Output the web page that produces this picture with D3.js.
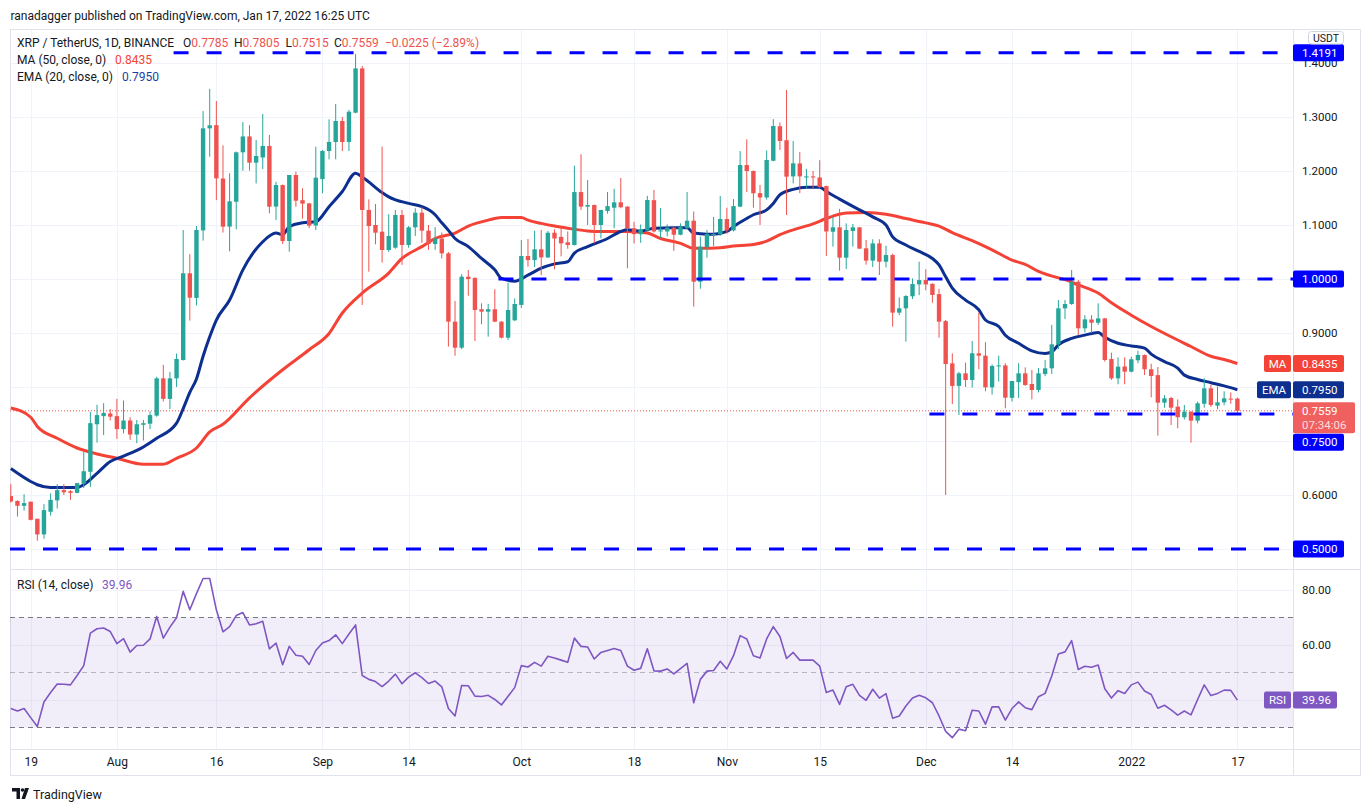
<!DOCTYPE html>
<html><head><meta charset="utf-8">
<script src="https://cdn.jsdelivr.net/npm/d3@7"></script>
<style>
body{margin:0;background:#fff;}
svg{display:block;font-family:Roboto,"Noto Sans",sans-serif;}
</style>
</head><body>
<svg id="chart" width="1370" height="812"></svg>
<script>
// ---------------- DATA ----------------
const baseDate = "2021-07-19";          // day 0
const firstCandleDay = -3;              // first candle = 2021-07-16
// [open, high, low, close] daily XRP/USDT
const candles = [
[0.598,0.620,0.586,0.588],[0.589,0.590,0.560,0.580],[0.580,0.6015,0.571,0.585],
[0.5876,0.5876,0.553,0.554],[0.556,0.556,0.5154,0.527],[0.527,0.583,0.519,0.572],[0.569,0.603,0.562,0.591],
[0.590,0.620,0.575,0.609],[0.609,0.620,0.600,0.605],[0.607,0.609,0.591,0.604],[0.604,0.622,0.603,0.622],
[0.621,0.680,0.613,0.644],[0.643,0.754,0.615,0.733],[0.731,0.767,0.697,0.748],[0.746,0.770,0.711,0.752],
[0.751,0.759,0.738,0.745],[0.746,0.778,0.704,0.722],[0.722,0.775,0.714,0.738],[0.738,0.744,0.702,0.712],
[0.712,0.739,0.696,0.731],[0.730,0.739,0.701,0.733],[0.732,0.755,0.722,0.748],[0.747,0.819,0.745,0.816],
[0.816,0.841,0.773,0.778],[0.778,0.828,0.759,0.816],[0.816,0.862,0.800,0.852],[0.850,1.0907,0.849,1.0106],
[1.0106,1.046,0.923,0.9654],[0.965,1.098,0.951,1.0907],[1.09,1.311,1.071,1.279],[1.279,1.352,1.2265,1.2846],
[1.285,1.3296,1.146,1.1864],[1.186,1.2475,1.086,1.0969],[1.097,1.1957,1.0512,1.1438],[1.143,1.236,1.092,1.2346],
[1.2346,1.2907,1.2006,1.264],[1.264,1.285,1.2006,1.2154],[1.2154,1.2574,1.177,1.2278],[1.225,1.3056,1.2037,1.2463],
[1.2463,1.2667,1.1216,1.1339],[1.134,1.180,1.109,1.174],[1.174,1.175,1.065,1.0704],[1.0704,1.1926,1.0506,1.1926],
[1.1926,1.1987,1.134,1.145],[1.146,1.168,1.1117,1.1395],[1.14,1.141,1.094,1.0988],[1.099,1.245,1.0907,1.1876],
[1.185,1.239,1.1587,1.237],[1.237,1.2957,1.2216,1.2537],[1.2537,1.324,1.2216,1.2926],[1.2926,1.30,1.237,1.2537],
[1.2537,1.313,1.237,1.3098],[1.308,1.4167,1.307,1.390],[1.390,1.3944,0.9519,1.1278],[1.128,1.1475,1.0136,1.098],
[1.1,1.1389,1.0642,1.0857],[1.0876,1.245,1.0302,1.0537],[1.0537,1.12,1.05,1.0796],[1.058,1.1278,1.056,1.1185],
[1.1185,1.128,1.026,1.063],[1.063,1.098,1.058,1.0957],[1.0957,1.131,1.0796,1.1228],[1.1228,1.133,1.067,1.0895],
[1.0895,1.1,1.054,1.0648],[1.0648,1.096,1.054,1.0753],[1.075,1.086,1.038,1.0475],[1.0475,1.05,0.8747,0.921],
[0.921,0.9593,0.858,0.8728],[0.8728,1.009,0.87,1.0043],[1.0043,1.0167,0.969,1.0],[1.002,1.003,0.8852,0.9426],
[0.944,0.955,0.916,0.9395],[0.9395,0.954,0.8932,0.944],[0.944,0.981,0.92,0.921],[0.921,0.922,0.89,0.8913],
[0.8913,0.9932,0.887,0.9426],[0.9235,0.964,0.922,0.9537],[0.952,1.0722,0.9463,1.0426],[1.0426,1.074,1.023,1.035],
[1.035,1.0895,1.022,1.055],[1.055,1.091,1.007,1.04],[1.04,1.089,1.039,1.0857],[1.0857,1.092,1.0179,1.075],
[1.078,1.094,1.042,1.066],[1.068,1.088,1.056,1.063],[1.063,1.2098,1.062,1.161],[1.161,1.231,1.128,1.134],
[1.134,1.1833,1.1,1.137],[1.137,1.138,1.066,1.1],[1.1,1.128,1.0754,1.1278],[1.126,1.161,1.121,1.135],
[1.132,1.167,1.0938,1.142],[1.142,1.187,1.131,1.133],[1.134,1.135,1.0198,1.0938],[1.094,1.106,1.066,1.083],
[1.083,1.101,1.067,1.092],[1.09,1.154,1.088,1.1463],[1.146,1.165,1.086,1.088],[1.088,1.1315,1.0754,1.09],
[1.088,1.101,1.079,1.095],[1.095,1.097,1.052,1.082],[1.082,1.103,1.081,1.096],[1.094,1.161,1.093,1.108],
[1.108,1.125,0.9487,0.995],[0.995,1.0784,0.982,1.0598],[1.059,1.091,1.0395,1.0833],[1.082,1.115,1.061,1.0833],
[1.083,1.1537,1.08,1.1111],[1.111,1.132,1.084,1.09],[1.09,1.148,1.088,1.135],[1.134,1.237,1.133,1.2111],
[1.211,1.2586,1.161,1.2],[1.2,1.201,1.132,1.1587],[1.159,1.174,1.1,1.151],[1.151,1.238,1.147,1.2204],
[1.219,1.296,1.218,1.2833],[1.283,1.29,1.239,1.2556],[1.257,1.35,1.1185,1.1895],[1.19,1.2556,1.177,1.2142],
[1.214,1.235,1.159,1.19],[1.188,1.204,1.168,1.19],[1.19,1.2,1.168,1.188],[1.188,1.22,1.169,1.17],
[1.172,1.173,1.0426,1.088],[1.0876,1.115,1.06,1.0957],[1.0957,1.13,1.0154,1.0395],[1.0395,1.103,1.0185,1.0907],
[1.089,1.102,1.06,1.0957],[1.0957,1.096,1.056,1.0562],[1.0568,1.0722,1.0265,1.034],[1.034,1.0735,1.0222,1.066],
[1.066,1.0735,1.0074,1.032],[1.032,1.0617,1.0216,1.0444],[1.0444,1.047,0.9117,0.9377],[0.9377,0.966,0.933,0.9457],
[0.9457,0.97,0.884,0.9685],[0.968,1.001,0.963,0.9907],[0.99,1.032,0.97,0.998],[0.998,1.018,0.979,0.99],
[0.991,0.992,0.956,0.9704],[0.972,0.982,0.8913,0.921],[0.922,0.924,0.600,0.8426],[0.8438,0.8623,0.7685,0.8019],
[0.802,0.828,0.748,0.8253],[0.8253,0.845,0.8,0.813],[0.813,0.8852,0.799,0.8624],[0.8624,0.9377,0.8328,0.858],
[0.858,0.883,0.792,0.7994],[0.7994,0.842,0.786,0.8389],[0.8389,0.858,0.81,0.84],[0.84,0.844,0.7605,0.7802],
[0.78,0.811,0.773,0.8111],[0.809,0.8438,0.7796,0.8253],[0.8253,0.8364,0.802,0.8037],[0.8056,0.8315,0.777,0.7944],
[0.7944,0.835,0.79,0.8253],[0.824,0.85,0.82,0.8346],[0.8346,0.915,0.824,0.879],[0.879,0.961,0.87,0.9457],
[0.9457,0.961,0.9259,0.9537],[0.9537,1.0167,0.952,0.995],[0.995,0.998,0.8963,0.9087],[0.9087,0.933,0.901,0.9253],
[0.925,0.933,0.9,0.919],[0.919,0.955,0.915,0.927],[0.927,0.928,0.847,0.85],[0.8518,0.8636,0.813,0.816],
[0.816,0.855,0.805,0.8377],[0.838,0.855,0.805,0.8284],[0.8284,0.856,0.827,0.8513],[0.8495,0.867,0.844,0.8593],
[0.8593,0.86,0.822,0.8328],[0.8328,0.843,0.781,0.8204],[0.822,0.837,0.71,0.771],[0.771,0.785,0.7617,0.779],
[0.7796,0.782,0.7296,0.7617],[0.7636,0.777,0.7235,0.744],[0.744,0.7667,0.74,0.7543],[0.7543,0.755,0.6969,0.7377],
[0.7377,0.773,0.7327,0.7698],[0.769,0.8161,0.7617,0.7975],[0.7975,0.8037,0.763,0.7667],[0.7655,0.801,0.759,0.7716],
[0.7716,0.792,0.766,0.779],[0.7785,0.79,0.769,0.777],[0.7785,0.7805,0.7515,0.7559]
];
// EMA(20) readings: [day since 2021-07-19, value]
const ema20 = [
[-3,.649],[0,.625],[1,.619],[3,.614],[7,.614],[8,.619],[10,.640],[12,.662],[14,.672],[17,.689],[19,.705],
[22,.733],[23,.760],[24,.790],[25,.815],[26,.857],[27,.893],[28,.924],[30,.961],[32,1.017],[35,1.069],
[37,1.085],[38,1.082],[39,1.097],[41,1.104],[43,1.106],[45,1.134],[47,1.162],[49,1.196],[50,1.189],
[53,1.16],[54,1.152],[57,1.140],[59,1.134],[61,1.119],[62,1.104],[63,1.09],[64,1.075],[66,1.060],
[68,1.038],[70,1.017],[71,1.001],[73,0.996],[75,1.007],[77,1.020],[79,1.028],[81,1.032],[82,1.048],
[84,1.060],[87,1.075],[89,1.088],[90,1.091],[92,1.089],[94,1.094],[97,1.095],[99,1.095],[100,1.085],
[102,1.083],[103,1.083],[105,1.088],[106,1.097],[108,1.112],[109,1.119],[111,1.128],[112,1.140],
[113,1.156],[115,1.166],[117,1.170],[119,1.170],[120,1.162],[122,1.148],[125,1.128],[127,1.115],
[129,1.100],[130,1.078],[132,1.063],[134,1.051],[136,1.038],[137,1.026],[138,1.004],[139,0.983],
[141,0.961],[143,0.943],[144,0.924],[146,0.912],[147,0.896],[149,0.881],[151,0.867],[153,0.862],
[154,0.865],[155,0.878],[157,0.890],[159,0.896],[161,0.901],[162,0.892],[164,0.881],[166,0.876],
[168,0.872],[169,0.861],[171,0.847],[173,0.835],[174,0.822],[176,0.814],[178,0.808],[180,0.802],[182,0.795]
];
// MA(50) readings: [day since 2021-07-19, value]
const ma50 = [
[-3,.761],[0,.744],[1,.727],[4,.705],[7,.687],[10,.676],[13,.668],[17,.657],[20,.657],[22,.668],[25,.687],
[27,.717],[29,.731],[33,.780],[38,.832],[42,.869],[45,.899],[47,.937],[50,.974],[54,1.011],[56,1.038],
[59,1.060],[61,1.075],[64,1.085],[66,1.098],[69,1.109],[71,1.114],[74,1.114],[75,1.109],[77,1.103],
[79,1.098],[81,1.094],[84,1.089],[86,1.088],[88,1.088],[90,1.088],[93,1.085],[95,1.075],[98,1.066],
[100,1.057],[101,1.057],[104,1.058],[106,1.061],[109,1.064],[111,1.070],[113,1.082],[115,1.091],
[118,1.102],[120,1.112],[123,1.122],[126,1.123],[129,1.120],[132,1.112],[135,1.104],[137,1.098],
[139,1.086],[142,1.071],[145,1.054],[148,1.035],[150,1.027],[152,1.014],[155,1.002],[156,0.999],
[158,0.989],[161,0.974],[163,0.956],[166,0.933],[169,0.912],[172,0.893],[175,0.875],[178,0.857],
[180,0.851],[182,0.8435]
];
// RSI(14), one value per candle
const rsi14 = [
36.9,36.0,36.9,33.6,30.4,39.3,42.7,45.8,45.7,45.5,48.9,52.5,64.3,65.9,66.2,64.9,60.5,62.3,57.4,59.8,
59.9,62.2,70.4,62.5,66.5,69.9,79.5,72.8,78.7,84.2,84.2,72.8,64.8,66.7,70.7,71.8,67.3,67.7,68.6,58.6,
60.7,52.8,59.5,56.3,55.9,52.9,58.0,60.7,61.6,63.7,60.5,64.0,67.3,48.9,47.5,46.7,44.9,46.9,49.4,45.9,
48.3,49.9,48.1,46.0,46.9,44.8,36.9,34.2,45.3,45.2,41.4,41.3,41.7,40.2,38.2,41.4,44.5,52.5,52.0,53.7,
52.3,55.9,55.3,54.5,53.7,62.5,59.5,59.3,54.9,57.3,58.0,58.7,58.0,52.3,50.8,51.5,58.6,50.6,50.5,51.3,
49.5,51.4,53.3,39.0,47.5,50.5,50.7,54.1,51.3,56.1,63.4,62.2,56.1,55.3,62.2,66.7,63.1,55.1,57.3,54.5,
54.5,54.5,52.3,42.7,43.6,38.4,44.8,45.7,41.7,39.9,43.9,40.7,42.3,33.4,34.2,37.8,40.7,41.7,40.8,39.0,
34.2,28.6,26.3,29.4,28.8,36.3,36.0,31.2,37.5,37.5,32.7,36.9,39.3,37.2,36.5,41.2,42.4,48.7,56.7,57.5,
61.6,51.1,52.3,51.9,52.7,44.1,40.7,43.4,42.4,45.5,46.5,43.3,42.0,37.0,38.1,36.4,34.5,36.0,34.6,40.2,
45.5,41.6,42.4,43.6,43.5,39.96
];
const priceTicks = [0.5,0.6,0.7,0.8,0.9,1.0,1.1,1.2,1.3,1.4];
const rsiTicks = [80,60,40];
const timeTickDates = ["2021-07-19","2021-08-01","2021-08-16","2021-09-01","2021-09-14","2021-10-01",
  "2021-10-18","2021-11-01","2021-11-15","2021-12-01","2021-12-14","2022-01-01","2022-01-17"];
const timeTickLabels = ["19","Aug","16","Sep","14","Oct","18","Nov","15","Dec","14","2022","17"];
// horizontal levels drawn by the author: value, start date
const levels = [
  {value:1.4191, label:"1.4191", from:"2021-08-10"},
  {value:1.0,    label:"1.0000", from:"2021-09-28"},
  {value:0.75,   label:"0.7500", from:"2021-12-02"},
  {value:0.5,    label:"0.5000", from:null}
];
const lastPrice = 0.7559, lastPriceText = "0.7559", countdown = "07:34:06";
const maLast = 0.8435, emaLast = 0.7950, rsiLast = 39.96;

// ---------------- LAYOUT ----------------
const C = {up:"#26a69a", down:"#ef5350", ma:"#f44336", ema:"#0d2f8f", level:"#0000ff",
  rsi:"#7e57c2", grid:"#f0f3fa", border:"#e0e3eb", text:"#131722"};
const pane = {l:10, r:1293, t:29, b:569.5};
const rpane = {t:569.5, b:749.5};
const frame = {l:10.5, t:29.5, r:1360.5, b:775.5};

const parse = d3.utcParse("%Y-%m-%d");
const base = parse(baseDate);
const dayDate = d => d3.utcDay.offset(base, d);

const x = d3.scaleUtc().domain([dayDate(0), dayDate(182)]).range([30.7, 1237.4]);
const y = d3.scaleLinear().domain([0.5, 1.0]).range([549, 279]);
const yr = d3.scaleLinear().domain([30, 70]).range([727.5, 617.5]);

const svg = d3.select("#chart");
svg.append("rect").attr("width",1370).attr("height",812).attr("fill","#fff");
const defs = svg.append("defs");
defs.append("clipPath").attr("id","cm").append("rect")
  .attr("x",pane.l).attr("y",pane.t).attr("width",pane.r-pane.l).attr("height",pane.b-pane.t);
defs.append("clipPath").attr("id","cr").append("rect")
  .attr("x",pane.l).attr("y",rpane.t).attr("width",pane.r-pane.l).attr("height",rpane.b-rpane.t);

// ---- grid ----
const grid = svg.append("g");
timeTickDates.forEach(s => {
  const gx = Math.round(x(parse(s))) + 0.5;
  grid.append("line").attr("x1",gx).attr("x2",gx).attr("y1",pane.t).attr("y2",rpane.b)
    .attr("stroke",C.grid).attr("stroke-width",1);
});
priceTicks.forEach(v => {
  const gy = Math.round(y(v)) + 0.5;
  grid.append("line").attr("x1",pane.l).attr("x2",pane.r).attr("y1",gy).attr("y2",gy)
    .attr("stroke",C.grid);
});
rsiTicks.forEach(v => {
  const gy = Math.round(yr(v)) + 0.5;
  grid.append("line").attr("x1",pane.l).attr("x2",pane.r).attr("y1",gy).attr("y2",gy)
    .attr("stroke",C.grid);
});

// ---- frame / separators ----
const fr = svg.append("g").attr("stroke",C.border).attr("fill","none");
fr.append("rect").attr("x",frame.l).attr("y",frame.t).attr("width",frame.r-frame.l).attr("height",frame.b-frame.t);
fr.append("line").attr("x1",frame.l).attr("x2",frame.r).attr("y1",pane.b).attr("y2",pane.b);
fr.append("line").attr("x1",frame.l).attr("x2",frame.r).attr("y1",rpane.b).attr("y2",rpane.b);
fr.append("line").attr("x1",pane.r+0.5).attr("x2",pane.r+0.5).attr("y1",frame.t).attr("y2",frame.b);

// ---- main pane ----
const main = svg.append("g").attr("clip-path","url(#cm)");

// last price dotted line
main.append("line").attr("x1",pane.l).attr("x2",pane.r)
  .attr("y1",y(lastPrice)).attr("y2",y(lastPrice))
  .attr("stroke",C.down).attr("stroke-width",1).attr("stroke-dasharray","1,2");

// moving averages
const lineGen = d3.line().x(d => x(dayDate(d[0]))).y(d => y(d[1])).curve(d3.curveMonotoneX);
main.append("path").datum(ma50).attr("d",lineGen).attr("fill","none")
  .attr("stroke",C.ma).attr("stroke-width",3).attr("stroke-linejoin","round");
main.append("path").datum(ema20).attr("d",lineGen).attr("fill","none")
  .attr("stroke",C.ema).attr("stroke-width",3).attr("stroke-linejoin","round");

// candles
const cd = candles.map((c,i) => ({date: dayDate(firstCandleDay + i), o:c[0], h:c[1], l:c[2], c:c[3]}));
const bw = 4.4;
const cg = main.append("g");
cg.selectAll("line.w").data(cd).join("line").attr("class","w")
  .attr("x1",d=>x(d.date)).attr("x2",d=>x(d.date))
  .attr("y1",d=>y(d.h)).attr("y2",d=>y(d.l))
  .attr("stroke",d=>d.c>=d.o?C.up:C.down).attr("stroke-width",1);
cg.selectAll("rect.b").data(cd).join("rect").attr("class","b")
  .attr("x",d=>x(d.date)-bw/2).attr("width",bw)
  .attr("y",d=>y(Math.max(d.o,d.c)))
  .attr("height",d=>Math.max(1, Math.abs(y(d.o)-y(d.c))))
  .attr("fill",d=>d.c>=d.o?C.up:C.down);

// dashed level lines
levels.forEach(L => {
  const x0 = L.from ? x(parse(L.from)) - 3 : pane.l;
  main.append("line").attr("x1",x0).attr("x2",pane.r)
    .attr("y1",y(L.value)).attr("y2",y(L.value))
    .attr("stroke",C.level).attr("stroke-width",3).attr("stroke-dasharray","15,18");
});

// ---- RSI pane ----
const rg = svg.append("g").attr("clip-path","url(#cr)");
rg.append("rect").attr("x",pane.l).attr("width",pane.r-pane.l)
  .attr("y",yr(70)).attr("height",yr(30)-yr(70)).attr("fill","rgba(126,87,194,0.1)");
[[70,1],[30,1],[50,0.5]].forEach(([v,op]) => {
  rg.append("line").attr("x1",pane.l).attr("x2",pane.r).attr("y1",yr(v)).attr("y2",yr(v))
    .attr("stroke","#787b86").attr("stroke-opacity",op).attr("stroke-dasharray","5,4");
});
const rsiData = rsi14.map((v,i) => [firstCandleDay + i, v]);
rg.append("path").datum(rsiData)
  .attr("d", d3.line().x(d=>x(dayDate(d[0]))).y(d=>yr(d[1])))
  .attr("fill","none").attr("stroke",C.rsi).attr("stroke-width",1.6).attr("stroke-linejoin","round");

// ---- axes ----
function styleAxis(g, size){
  g.select(".domain").remove();
  g.attr("font-family",null).attr("font-size",null);
  g.selectAll("text").attr("fill",C.text).style("font-size",size+"px");
}
const pa = svg.append("g").attr("transform",`translate(${pane.r},0)`)
  .call(d3.axisRight(y).tickValues(priceTicks).tickFormat(d3.format(".4f")).tickSize(0).tickPadding(9));
styleAxis(pa, 11.5);
pa.selectAll("text").attr("text-anchor","start");
const ra = svg.append("g").attr("transform",`translate(${pane.r},0)`)
  .call(d3.axisRight(yr).tickValues(rsiTicks).tickFormat(d3.format(".2f")).tickSize(0).tickPadding(9));
styleAxis(ra, 11.5);
const ta = svg.append("g").attr("transform",`translate(0,${rpane.b})`)
  .call(d3.axisBottom(x).tickValues(timeTickDates.map(parse))
    .tickFormat((d,i)=>timeTickLabels[i]).tickSize(0).tickPadding(8));
styleAxis(ta, 12);

// ---- axis label boxes ----
function axisBox(cy, w, fill, lines, opts={}){
  const h = lines.length>1 ? 31 : 17;
  const g = svg.append("g");
  g.append("rect").attr("x",pane.r).attr("y",cy-8.5).attr("width",w).attr("height",h)
    .attr("rx",2).attr("fill",fill).attr("fill-opacity",opts.op||1);
  lines.forEach((t,i)=>{
    g.append("text").attr("x",pane.r+9).attr("y",cy+4+i*14).text(t)
      .attr("fill","#fff").attr("fill-opacity",i?0.8:1).style("font-size","11.5px");
  });
}
function tagBox(cy, w, fill, t){
  svg.append("rect").attr("x",pane.r-2-w).attr("y",cy-8.5).attr("width",w).attr("height",17)
    .attr("rx",2).attr("fill",fill);
  svg.append("text").attr("x",pane.r-2-w/2).attr("y",cy+4).attr("text-anchor","middle")
    .text(t).attr("fill","#fff").style("font-size","11.5px");
}
// last price first, others avoid collision
const lpY = y(lastPrice);
axisBox(lpY, 62, C.down, [lastPriceText, countdown], {op:0.92});
levels.forEach(L => {
  let cy = y(L.value);
  if (cy+8.5 > lpY-8.5 && cy-8.5 < lpY+22.5) cy = lpY + 22.5 + 9;
  axisBox(cy, 51, C.level, [L.label]);
});
axisBox(y(maLast), 51, C.ma, [d3.format(".4f")(maLast)]);
tagBox(y(maLast), 27, C.ma, "MA");
axisBox(y(emaLast), 51, C.ema, [d3.format(".4f")(emaLast)]);
tagBox(y(emaLast), 34, C.ema, "EMA");
axisBox(yr(rsiLast), 44, C.rsi, [d3.format(".2f")(rsiLast)]);
tagBox(yr(rsiLast), 27, C.rsi, "RSI");

// USDT badge
svg.append("rect").attr("x",1308.5).attr("y",31.5).attr("width",35).attr("height",12.5).attr("rx",3)
  .attr("fill","#fff").attr("stroke","#d1d4dc");
svg.append("text").attr("x",1326).attr("y",41.5).attr("text-anchor","middle").text("USDT")
  .attr("fill",C.text).style("font-size","10.5px");

// ---- header texts ----
svg.append("text").attr("x",10.5).attr("y",19.5).attr("fill",C.text).style("font-size","12px")
  .text("ranadagger published on TradingView.com, Jan 17, 2022 16:25 UTC");
const lg = svg.append("g").style("font-size","12px");
lg.append("text").attr("x",17).attr("y",46.5).attr("fill",C.text).text("XRP / TetherUS, 1D, BINANCE");
[["O","0.7785",183],["H","0.7805",234],["L","0.7515",285.5],["C","0.7559",334]].forEach(([k,v,px])=>{
  const t = lg.append("text").attr("x",px).attr("y",46.5);
  t.append("tspan").attr("fill",C.text).text(k);
  t.append("tspan").attr("fill",C.down).text(v);
});
lg.append("text").attr("x",385).attr("y",46.5).attr("fill",C.down).text("\u22120.0225 (\u22122.89%)");
const m1 = lg.append("text").attr("x",17).attr("y",63.5);
m1.append("tspan").attr("fill",C.text).text("MA (50, close, 0)");
lg.append("text").attr("x",115).attr("y",63.5).attr("fill",C.ma).text("0.8435");
lg.append("text").attr("x",17).attr("y",80.5).attr("fill",C.text).text("EMA (20, close, 0)");
lg.append("text").attr("x",122).attr("y",80.5).attr("fill","#1a3fa3").text("0.7950");
lg.append("text").attr("x",17).attr("y",589).attr("fill",C.text).text("RSI (14, close)");
lg.append("text").attr("x",102).attr("y",589).attr("fill",C.rsi).text("39.96");

// ---- TradingView footer ----
const logo = svg.append("g").attr("transform","translate(12,788)").attr("fill",C.text);
logo.append("path").attr("d","M0,0 H8 V11 H4.5 V3.5 H0 Z");
logo.append("circle").attr("cx",10.5).attr("cy",2).attr("r",1.8);
logo.append("path").attr("d","M13,0 H17 L13,11 H9.5 Z");
svg.append("text").attr("x",33).attr("y",798.5).attr("fill",C.text).style("font-size","12.5px")
  .text("TradingView");
</script>
</body></html>
